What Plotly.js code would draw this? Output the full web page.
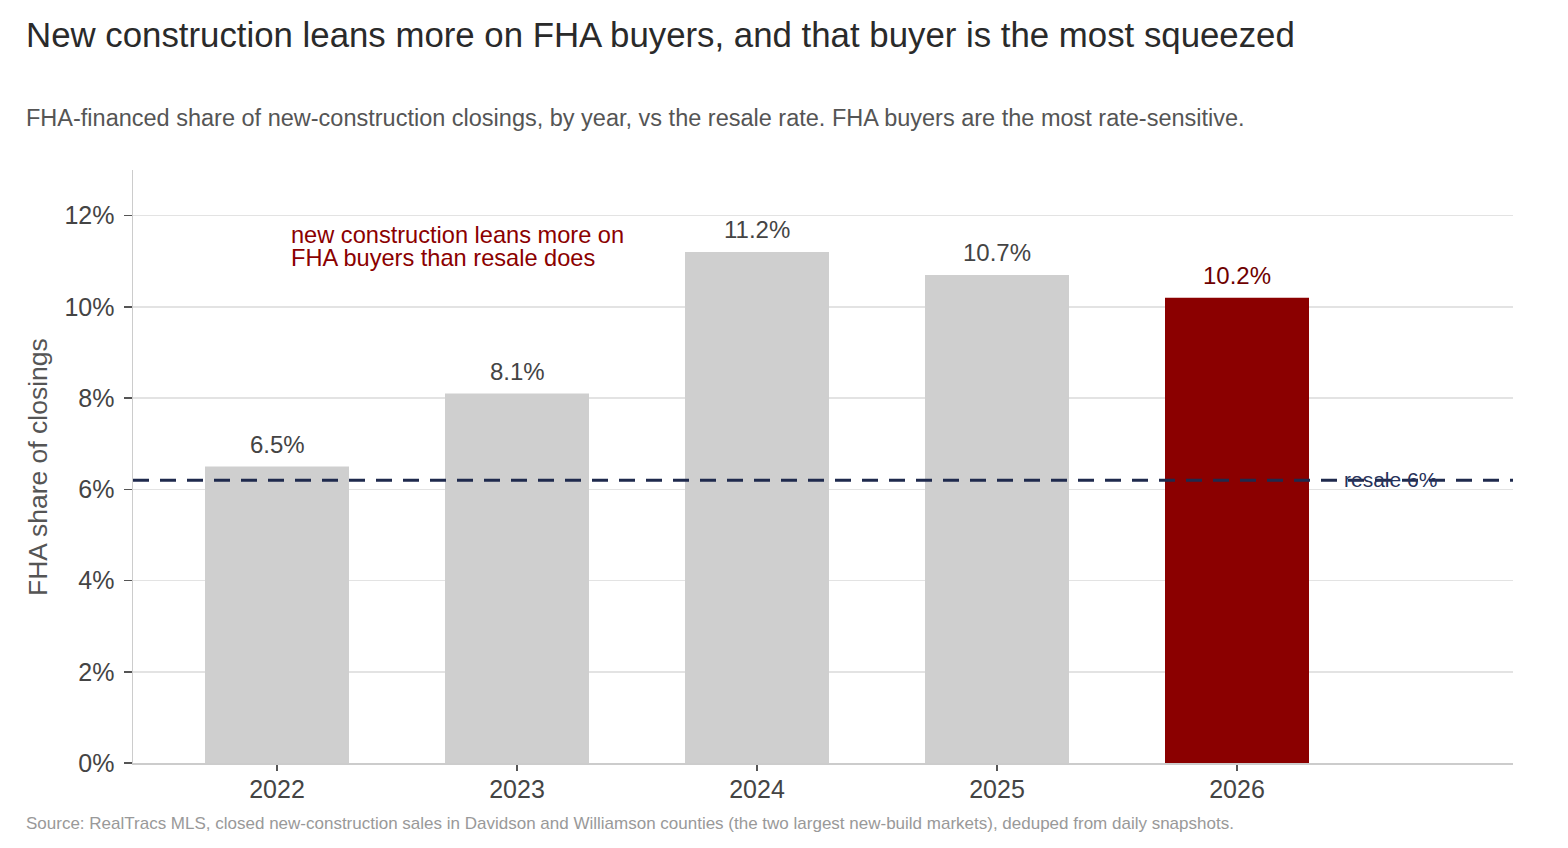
<!DOCTYPE html>
<html>
<head>
<meta charset="utf-8">
<script src="https://cdn.plot.ly/plotly-3.0.1.min.js"></script>
<style>html,body{margin:0;padding:0;background:#fff;}#chart{width:1568px;height:848px;}</style>
</head>
<body>
<div id="chart"></div>
<script>
const years = ['2022', '2023', '2024', '2025', '2026'];
const fhaShare = [6.5, 8.1, 11.2, 10.7, 10.2];
const barColors = ['#cfcfcf', '#cfcfcf', '#cfcfcf', '#cfcfcf', '#8b0000'];
const labelColors = ['#444444', '#444444', '#444444', '#444444', '#6e0000'];
const resaleRate = 6.2;
const resaleLabel = 'resale 6%';
const yTicks = [0, 2, 4, 6, 8, 10, 12];
const noteLines = ['new construction leans more on', 'FHA buyers than resale does'];

const FONT = '"Liberation Sans", Arial, Helvetica, sans-serif';

const trace = {
  type: 'bar',
  x: years,
  y: fhaShare,
  marker: {color: barColors, line: {width: 0}},
  width: 0.6,
  hoverinfo: 'x+y',
  showlegend: false
};

const annotations = years.map((yr, i) => ({
  x: i, y: fhaShare[i], xref: 'x', yref: 'y',
  text: fhaShare[i].toFixed(1) + '%',
  showarrow: false, xanchor: 'center', yanchor: 'bottom', yshift: 7,
  font: {family: FONT, size: 24, color: labelColors[i]}
}));

// plot area: x 133..1513, y 170..763 (px)
const py = p => (763 - p) / 593;

annotations.push(
  {xref: 'paper', yref: 'paper', x: -0.079, y: py(34), xanchor: 'left', yanchor: 'middle',
   text: 'New construction leans more on FHA buyers, and that buyer is the most squeezed',
   showarrow: false, font: {family: FONT, size: 34.8, color: '#2a2a2a'}},
  {xref: 'paper', yref: 'paper', x: -0.079, y: py(118), xanchor: 'left', yanchor: 'middle',
   text: 'FHA-financed share of new-construction closings, by year, vs the resale rate. FHA buyers are the most rate-sensitive.',
   showarrow: false, font: {family: FONT, size: 23.5, color: '#555555'}},
  {xref: 'paper', yref: 'paper', x: -0.079, y: py(823), xanchor: 'left', yanchor: 'middle',
   text: 'Source: RealTracs MLS, closed new-construction sales in Davidson and Williamson counties (the two largest new-build markets), deduped from daily snapshots.',
   showarrow: false, font: {family: FONT, size: 17, color: '#999999'}},
  {xref: 'paper', yref: 'paper', x: (38 - 133) / 1380, y: py(467), xanchor: 'center', yanchor: 'middle',
   text: 'FHA share of closings', textangle: -90,
   showarrow: false, font: {family: FONT, size: 26.5, color: '#555555'}},
  {xref: 'paper', yref: 'paper', x: (289 - 133) / 1380, y: py(235), xanchor: 'left', yanchor: 'middle',
   text: noteLines[0], showarrow: false, font: {family: FONT, size: 23.6, color: '#8b0000'}},
  {xref: 'paper', yref: 'paper', x: (289 - 133) / 1380, y: py(258), xanchor: 'left', yanchor: 'middle',
   text: noteLines[1], showarrow: false, font: {family: FONT, size: 23.6, color: '#8b0000'}},
  {xref: 'x', yref: 'y', x: 4.64, y: resaleRate, xanchor: 'center', yanchor: 'middle', yshift: 1,
   text: resaleLabel, showarrow: false, font: {family: FONT, size: 21, color: '#27325a'}}
);

const layout = {
  width: 1568, height: 848,
  margin: {l: 133, r: 55, t: 170, b: 85, pad: 0},
  paper_bgcolor: '#ffffff', plot_bgcolor: '#ffffff',
  font: {family: FONT, color: '#444444'},
  bargap: 0.4,
  xaxis: {
    type: 'category', range: [-0.6, 5.15],
    showgrid: false, showline: true, linecolor: '#cccccc', linewidth: 1.5,
    ticks: 'outside', ticklen: 6, tickcolor: '#555555', tickwidth: 1.5,
    ticklabelstandoff: -3,
    tickfont: {family: FONT, size: 25, color: '#444444'},
    zeroline: false, fixedrange: true
  },
  yaxis: {
    range: [0, 13], tickvals: yTicks, ticktext: yTicks.map(v => v + '%'),
    showgrid: true, gridcolor: '#e3e3e3', gridwidth: 1.5,
    showline: true, linecolor: '#cccccc', linewidth: 1.5,
    ticks: 'outside', ticklen: 8, tickcolor: '#555555', tickwidth: 1.5,
    ticklabelstandoff: 4,
    tickfont: {family: FONT, size: 25, color: '#444444'},
    zeroline: false, fixedrange: true
  },
  shapes: [{
    type: 'line', xref: 'paper', yref: 'y', x0: 0, x1: 1, y0: resaleRate, y1: resaleRate,
    line: {color: '#1f2a4d', width: 3, dash: '16px,11px'}, layer: 'above'
  }],
  annotations: annotations
};

Plotly.newPlot('chart', [trace], layout, {displayModeBar: false, staticPlot: true});
</script>
</body>
</html>
